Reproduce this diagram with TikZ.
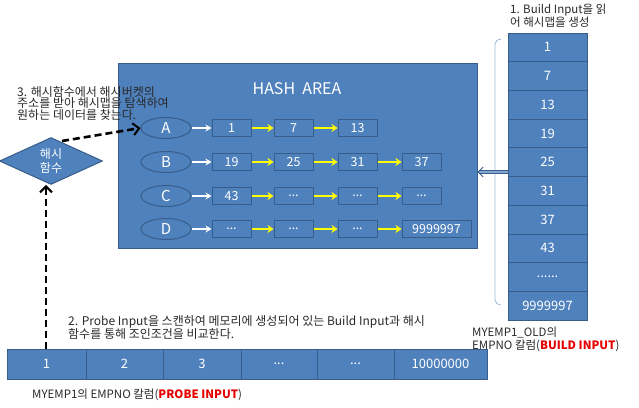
\documentclass[tikz,border=0pt]{standalone}
\usepackage{fontspec}
\setmainfont{Noto Sans CJK KR}
\usetikzlibrary{shapes.geometric,arrows.meta}
\definecolor{fillb}{RGB}{79,129,189}
\definecolor{edgeb}{RGB}{56,93,138}
\definecolor{txt}{RGB}{40,40,40}
\definecolor{brk}{RGB}{160,185,215}
\definecolor{yel}{RGB}{255,255,0}
\definecolor{redt}{RGB}{230,0,0}
\tikzset{
  hashbox/.style={draw=edgeb, line width=1pt, fill=fillb, text=white, minimum width=39pt, minimum height=17pt, inner sep=0pt, font=\fontsize{12.5}{13}\selectfont},
  bucket/.style={ellipse, draw=edgeb, line width=1pt, fill=fillb, text=white, minimum width=50pt, minimum height=21pt, inner sep=0pt, font=\fontsize{15}{16}\selectfont},
  colcell/.style={draw=edgeb, line width=0.8pt, fill=fillb, text=white, minimum width=79pt, minimum height=28.7pt, inner sep=0pt, font=\fontsize{13}{14}\selectfont},
  probecell/.style={draw=edgeb, line width=0.8pt, fill=fillb, text=white, minimum height=30pt, inner sep=0pt, font=\fontsize{13}{14}\selectfont},
  wharrow/.style={draw=white, line width=1.5pt, -{Stealth[length=6pt,width=7pt]}},
  yarrow/.style={draw=yel, line width=1.8pt, -{Stealth[length=6pt,width=8pt]}},
  bigdash/.style={draw=black, line width=2.6pt, dash pattern=on 7pt off 4pt, -{Straight Barb[length=6pt,width=12pt,line width=2pt]}},
  note/.style={text=txt, align=left, anchor=north west, inner sep=0pt, font=\fontsize{11.5}{11.5}\selectfont},
}
\begin{document}
\begin{tikzpicture}[x=1pt,y=-1pt]
\useasboundingbox (0,0) rectangle (639,407);
% hash area
\node[draw=edgeb, line width=1pt, fill=fillb, minimum width=359pt, minimum height=185pt, inner sep=0pt] (hash) at (297.5,155.5) {};
\node[text=white, font=\fontsize{16}{17}\selectfont] (hashtitle) at (297,89) {HASH\ \ AREA};
% buckets
\node[bucket] (A) at (166,128) {A};
\node[bucket] (B) at (166,162) {B};
\node[bucket] (C) at (166,196) {C};
\node[bucket] (D) at (166,229) {D};
% rows
\node[hashbox] (a1) at (231.5,128) {1};
\node[hashbox] (a2) at (293.5,128) {7};
\node[hashbox] (a3) at (357.5,128) {13};
\node[hashbox] (b1) at (231.5,162) {19};
\node[hashbox] (b2) at (293.5,162) {25};
\node[hashbox] (b3) at (357.5,162) {31};
\node[hashbox] (b4) at (421.5,162) {37};
\node[hashbox] (c1) at (231.5,196) {43};
\node[hashbox] (c2) at (293.5,196) {...};
\node[hashbox] (c3) at (357.5,196) {...};
\node[hashbox] (c4) at (421.5,196) {...};
\node[hashbox] (d1) at (231.5,229) {...};
\node[hashbox] (d2) at (293.5,229) {...};
\node[hashbox] (d3) at (357.5,229) {...};
\node[hashbox, minimum width=69pt] (d4) at (436.5,229) {9999997};
\draw[wharrow] (A) -- (a1);
\draw[wharrow] (B) -- (b1);
\draw[wharrow] (C) -- (c1);
\draw[wharrow] (D) -- (d1);
\draw[yarrow] (a1) -- (a2); \draw[yarrow] (a2) -- (a3);
\draw[yarrow] (b1) -- (b2); \draw[yarrow] (b2) -- (b3); \draw[yarrow] (b3) -- (b4);
\draw[yarrow] (c1) -- (c2); \draw[yarrow] (c2) -- (c3); \draw[yarrow] (c3) -- (c4);
\draw[yarrow] (d1) -- (d2); \draw[yarrow] (d2) -- (d3); \draw[yarrow] (d3) -- (d4);
% hash function diamond
\node[diamond, draw=edgeb, line width=1pt, fill=fillb, text=white, minimum width=103pt, minimum height=43pt, inner sep=0pt, align=center, font=\fontsize{12}{14}\selectfont] (hf) at (51,161) {해시\\함수};
% note 3
\node[note, font=\fontsize{12}{11.5}\selectfont] (n3) at (17,86) {3. 해시함수에서 해시버켓의\\주소를 받아 해시맵을 탐색하여\\원하는 데이터를 찾는다.};
% build column
\node[colcell] (k1) at (547.5,47.35) {1};
\node[colcell] (k2) at (547.5,76.05) {7};
\node[colcell] (k3) at (547.5,104.75) {13};
\node[colcell] (k4) at (547.5,133.45) {19};
\node[colcell] (k5) at (547.5,162.15) {25};
\node[colcell] (k6) at (547.5,190.85) {31};
\node[colcell] (k7) at (547.5,219.55) {37};
\node[colcell] (k8) at (547.5,248.25) {43};
\node[colcell] (k9) at (547.5,276.95) {......};
\node[colcell] (k10) at (547.5,305.65) {9999997};
\draw[brk, line width=0.8pt] (501,39) to[out=180,in=90] (495,44) -- (495,300) to[out=-90,in=180] (501,305);
\coordinate (bsrc) at (508,172);
\draw[draw=edgeb, line width=1pt, double=fillb!70!white, double distance=2.5pt, -{Straight Barb[length=5pt,width=10pt]}] (bsrc) -- (bsrc -| hash.east);
\node[note] (n1) at (510,4) {1. Build Input을 읽\\어 해시맵을 생성};
\node[note, font=\fontsize{11.5}{13}\selectfont] (nb) at (472,327) {MYEMP1\_OLD의\\EMPNO 칼럼(\textcolor{redt}{\textbf{BUILD INPUT}})};
% probe row
\node[probecell, minimum width=79pt] (p1) at (46.5,364) {1};
\node[probecell, minimum width=77pt] (p2) at (124.5,364) {2};
\node[probecell, minimum width=78pt] (p3) at (202,364) {3};
\node[probecell, minimum width=76pt] (p4) at (279,364) {...};
\node[probecell, minimum width=77pt] (p5) at (355.5,364) {...};
\node[probecell, minimum width=93pt] (p6) at (440.5,364) {10000000};
\node[note, font=\fontsize{12}{12.5}\selectfont] (n2) at (68,315) {2. Probe Input을 스캔하여 메모리에 생성되어 있는 Build Input과 해시\\함수를 통해 조인조건을 비교한다.};
\node[note] (np) at (32,389) {MYEMP1의 EMPNO 칼럼(\textcolor{redt}{\textbf{PROBE INPUT}})};
% dashed arrows
\coordinate (dstart) at (62,141);
\draw[bigdash] (p1.north -| 46,0) -- (hf.south -| 46,0);
\draw[bigdash] (dstart) -- (A.west);
\end{tikzpicture}
\end{document}
